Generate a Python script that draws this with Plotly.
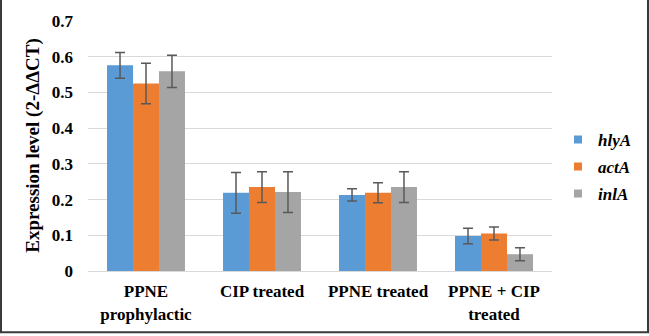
import plotly.graph_objects as go

# Relative expression of virulence genes per treatment group
categories = ["PPNE<br>prophylactic", "CIP treated", "PPNE treated", "PPNE + CIP<br>treated"]
genes = ["hlyA", "actA", "inlA"]
hlyA = [0.576, 0.219, 0.213, 0.098]
actA = [0.525, 0.235, 0.219, 0.105]
inlA = [0.559, 0.221, 0.235, 0.047]
hlyA_err = [0.036, 0.057, 0.017, 0.022]
actA_err = [0.057, 0.043, 0.028, 0.018]
inlA_err = [0.045, 0.057, 0.043, 0.018]
y_ticks = [0, 0.1, 0.2, 0.3, 0.4, 0.5, 0.6, 0.7]
y_tick_text = ["0", "0.1", "0.2", "0.3", "0.4", "0.5", "0.6", "0.7"]

colors = ["#5B9BD5", "#ED7D31", "#A5A5A5"]
serif = "Liberation Serif"

fig = go.Figure()
for name, vals, errs, col in zip(genes, [hlyA, actA, inlA], [hlyA_err, actA_err, inlA_err], colors):
    fig.add_trace(go.Bar(
        x=categories, y=vals, name=name, showlegend=False,
        marker=dict(color=col, line=dict(width=0)),
        error_y=dict(type="data", array=errs, visible=True,
                     color="#595959", thickness=1.5, width=5),
    ))
# Small square legend keys
for name, col in zip(genes, colors):
    fig.add_trace(go.Scatter(
        x=[None], y=[None], mode="markers", name=f"<b><i>{name}</i></b>",
        marker=dict(symbol="square", size=8, color=col, line=dict(width=0)),
        legendgroup=name, hoverinfo="skip",
    ))

W, H = 649, 336
ml, mr, mt, mb = 88, 97, 20, 63
pw, ph = W - ml - mr, H - mt - mb
y_top = 0.7 + 0.7 / ph  # one pixel of headroom so the 0.7 gridline shows

fig.update_layout(
    width=W, height=H,
    margin=dict(l=ml, r=mr, t=mt - 1, b=mb, pad=0),
    paper_bgcolor="white", plot_bgcolor="white",
    barmode="group", bargap=0.328, bargroupgap=0,
    font=dict(family=serif, color="#000000", size=16),
    showlegend=True,
    legend=dict(x=(558 - ml) / pw, xanchor="left", y=0.415, yanchor="middle",
                font=dict(family=serif, size=17, color="#000000"),
                tracegroupgap=2, traceorder="grouped",
                bgcolor="rgba(0,0,0,0)"),
    xaxis=dict(showgrid=False, showline=True, linecolor="#D9D9D9", linewidth=1,
               ticks="", tickfont=dict(family=serif, size=17, color="#000000"),
               tickprefix="<b>", ticksuffix="</b>", ticklabelstandoff=5),
    yaxis=dict(range=[0, y_top], tickvals=y_ticks,
               ticktext=[f"<b>{t}</b>" for t in y_tick_text],
               showgrid=True, gridcolor="#D9D9D9", gridwidth=1,
               zeroline=False, showline=False, ticks="",
               tickfont=dict(family=serif, size=17, color="#000000"),
               ticklabelstandoff=14,
               title=dict(text="<b>Expression level (2-ΔΔCT)</b>",
                          font=dict(family=serif, size=19, color="#000000"),
                          standoff=7)),
)

# Outer frame around the whole figure
fig.add_shape(type="rect", xref="paper", yref="paper",
              x0=(-ml + 1) / pw, x1=(W - ml - 1) / pw,
              y0=(-mb + 1) / (ph + 1), y1=(H - mt) / (ph + 1),
              line=dict(color="#3A3A3A", width=2), fillcolor="rgba(0,0,0,0)")

fig.write_html("out.html")
